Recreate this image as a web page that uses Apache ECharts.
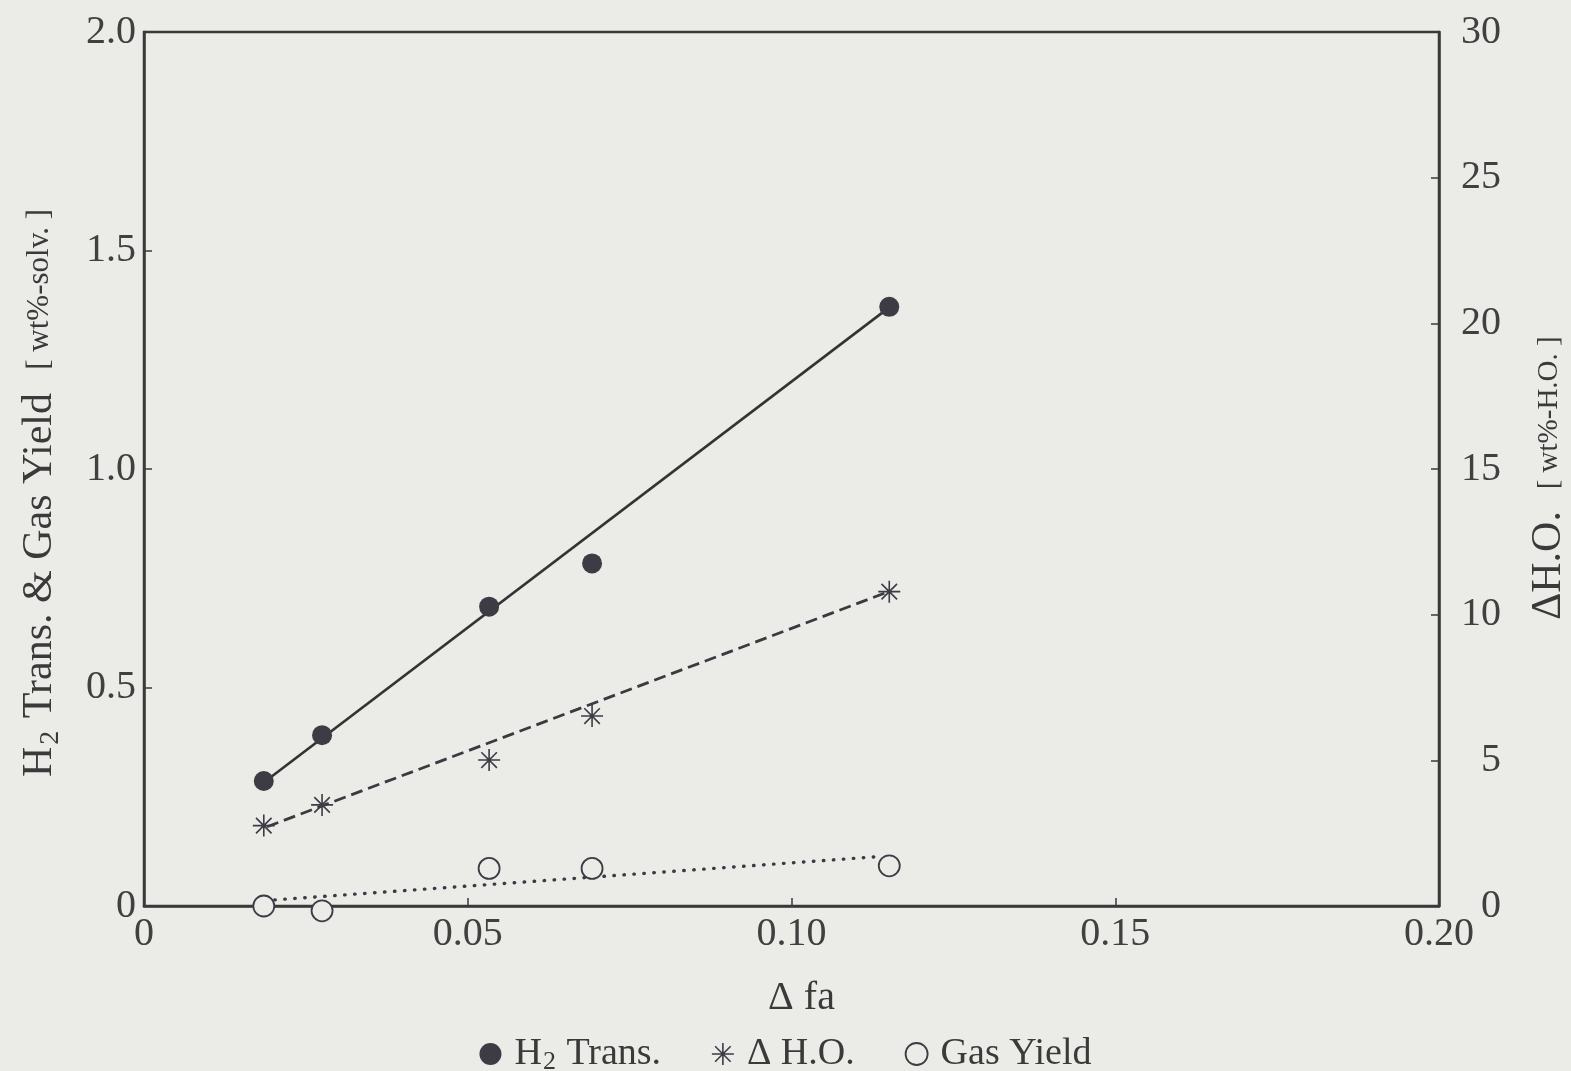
<!DOCTYPE html>
<html>
<head>
<meta charset="utf-8">
<script src="https://cdn.jsdelivr.net/npm/echarts@6/dist/echarts.min.js"></script>
<style>
  html, body { margin: 0; padding: 0; background: #ebebe8; }
  #chart { width: 1571px; height: 1071px; }
</style>
</head>
<body>
<div id="chart"></div>
<script>
// Δfa of each run (shared by the three measured quantities)
const deltaFa = [0.0185, 0.0275, 0.0533, 0.0692, 0.1151];
// H2 transferred [wt%-solv.]
const h2Trans = [0.286, 0.391, 0.685, 0.784, 1.371];
// ΔH.O. [wt%-H.O.]
const deltaHO = [2.76, 3.47, 5.01, 6.52, 10.79];
// Gas yield [wt%-solv.]
const gasYield = [0.0, -0.011, 0.086, 0.086, 0.092];

// Fitted trend lines: [start, end] as [Δfa, value]
const h2Fit = [[0.0188, 0.286], [0.1152, 1.371]];
const hoFit = [[0.0190, 2.72], [0.1150, 10.79]];
const gasFit = [[0.0202, 0.014], [0.1134, 0.113]];

// Axis tick values
const xTicks = { min: 0, max: 0.20, step: 0.05 };
const yLeftTicks = { min: 0, max: 2.0, step: 0.5 };
const yRightTicks = { min: 0, max: 30, step: 5 };

const INK = '#3a3a3a';
const BG = '#ebebe8';
const FONT = '"Liberation Serif", "DejaVu Serif", serif';
const STAR = 'path://M0,-10L0,10M-10,0L10,0M-7.07,-7.07L7.07,7.07M-7.07,7.07L7.07,-7.07';

const pairs = (xs, ys) => xs.map((x, i) => [x, ys[i]]);

const chart = echarts.init(document.getElementById('chart'), null, { renderer: 'canvas' });

const axisCommon = {
  axisLine: { show: true, lineStyle: { color: INK, width: 2.5 } },
  axisTick: { show: true, inside: true, length: 8, lineStyle: { color: INK, width: 1.5 } },
  splitLine: { show: false },
  axisLabel: { color: '#404040', fontFamily: FONT, fontSize: 40 }
};

chart.setOption({
  backgroundColor: BG,
  animation: false,
  textStyle: { fontFamily: FONT, color: INK },
  grid: {
    left: 144, right: 132, top: 32, bottom: 165,
    outerBoundsMode: 'none',
    containLabel: false,
    show: true, borderColor: INK, borderWidth: 2.5, backgroundColor: 'transparent'
  },
  xAxis: {
    type: 'value',
    min: xTicks.min, max: xTicks.max, interval: xTicks.step,
    ...axisCommon,
    axisLabel: {
      ...axisCommon.axisLabel, margin: 8,
      formatter: v => (v === 0 ? '0' : v.toFixed(2))
    },
    name: 'Δ fa',
    nameLocation: 'middle',
    nameGap: 72,
    nameTextStyle: { color: INK, fontFamily: FONT, fontSize: 40, padding: [0, 0, 0, 20] }
  },
  yAxis: [
    {
      type: 'value',
      position: 'left',
      min: yLeftTicks.min, max: yLeftTicks.max, interval: yLeftTicks.step,
      ...axisCommon,
      axisLabel: {
        ...axisCommon.axisLabel, margin: 8,
        formatter: v => (v === 0 ? '0' : v.toFixed(1))
      },
      name: '{m|H}{s|2}{m| Trans. & Gas Yield}{b|   [ wt%-solv. ]}',
      nameLocation: 'middle',
      nameGap: 82,
      nameTextStyle: {
        color: INK, fontFamily: FONT,
        padding: [0, 48, 0, 0],
        rich: {
          m: { fontSize: 42, fontFamily: FONT, color: INK, lineHeight: 44 },
          s: { fontSize: 28, fontFamily: FONT, color: INK, verticalAlign: 'bottom', lineHeight: 44, padding: [0, 2, -3, 2] },
          b: { fontSize: 31, fontFamily: FONT, color: INK, lineHeight: 44 }
        }
      }
    },
    {
      type: 'value',
      position: 'right',
      min: yRightTicks.min, max: yRightTicks.max, interval: yRightTicks.step,
      ...axisCommon,
      axisLabel: { ...axisCommon.axisLabel, margin: 62, align: 'right' },
      name: '{m|ΔH.O.}{b|   [ wt%-H.O. ]}',
      nameLocation: 'middle',
      nameGap: 88,
      nameTextStyle: {
        color: INK, fontFamily: FONT,
        padding: [0, 18, 0, 0],
        rich: {
          m: { fontSize: 42, fontFamily: FONT, color: INK, lineHeight: 44 },
          b: { fontSize: 29, fontFamily: FONT, color: INK, lineHeight: 44 }
        }
      }
    }
  ],
  legend: {
    top: 1030,
    left: 'center',
    itemGap: 50,
    itemWidth: 22,
    itemHeight: 22,
    selectedMode: false,
    textStyle: {
      color: INK, fontFamily: FONT, fontSize: 38,
      rich: {
        m: { fontSize: 38, fontFamily: FONT, color: INK, padding: [0, 0, 0, 8] },
        n: { fontSize: 38, fontFamily: FONT, color: INK },
        s: { fontSize: 26, fontFamily: FONT, color: INK, verticalAlign: 'bottom', padding: [0, 1, -2, 1] }
      }
    },
    formatter: name => {
      if (name === 'H2 Trans.') return '{m|H}{s|2}{n| Trans.}';
      if (name === 'ΔH.O.') return '{m|Δ H.O.}';
      return '{m|' + name + '}';
    },
    data: [
      { name: 'H2 Trans.', icon: 'circle', itemStyle: { color: '#3d3b44' } },
      { name: 'ΔH.O.', icon: STAR, itemStyle: { color: 'transparent', borderColor: '#3d3b44', borderWidth: 1.6 } },
      { name: 'Gas Yield', icon: 'circle', itemStyle: { color: BG, borderColor: '#3d3b44', borderWidth: 1.8 } }
    ]
  },
  series: [
    {
      name: 'H2 fit', type: 'line', data: h2Fit, showSymbol: false, silent: true,
      lineStyle: { color: '#333', width: 2.6, type: 'solid' }, z: 2
    },
    {
      name: 'ΔH.O. fit', type: 'line', yAxisIndex: 1, data: hoFit, showSymbol: false, silent: true,
      lineStyle: { color: '#3a3a40', width: 2.8, type: [12, 6] }, z: 2
    },
    {
      name: 'Gas fit', type: 'line', data: gasFit, showSymbol: false, silent: true,
      lineStyle: { color: '#3a3a44', width: 3.4, type: [0.5, 9.5], cap: 'round' }, z: 2
    },
    {
      name: 'H2 Trans.', type: 'scatter', data: pairs(deltaFa, h2Trans), clip: false,
      symbol: 'circle', symbolSize: 20,
      itemStyle: { color: '#3d3b44', opacity: 1 }, z: 5
    },
    {
      name: 'ΔH.O.', type: 'scatter', yAxisIndex: 1, data: pairs(deltaFa, deltaHO), clip: false,
      symbol: STAR, symbolSize: 22,
      itemStyle: { color: 'transparent', borderColor: '#3d3b44', borderWidth: 1.6, opacity: 1 }, z: 5
    },
    {
      name: 'Gas Yield', type: 'scatter', data: pairs(deltaFa, gasYield), clip: false,
      symbol: 'circle', symbolSize: 21,
      itemStyle: { color: BG, borderColor: '#3d3b44', borderWidth: 1.8, opacity: 1 }, z: 5
    }
  ]
});
</script>
</body>
</html>
